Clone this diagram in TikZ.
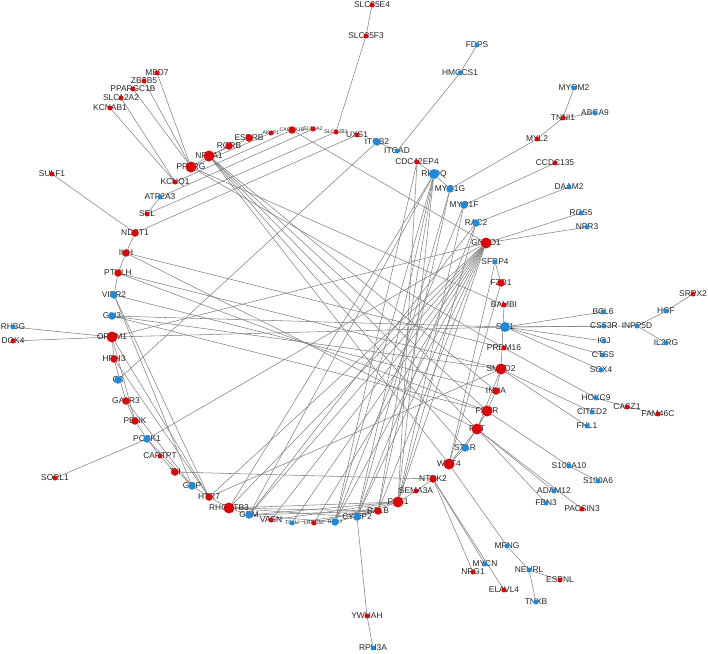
\documentclass[tikz,border=0pt]{standalone}
\usepackage{fontspec}
\setmainfont{Liberation Sans}
\usetikzlibrary{shapes,arrows,positioning}
\definecolor{nodered}{RGB}{218,8,8}
\definecolor{nodeblue}{RGB}{28,138,222}
\definecolor{linkgray}{RGB}{130,130,130}
\tikzstyle{rbig}=[circle,fill=nodered,inner sep=0pt,minimum size=11pt]
\tikzstyle{rmid}=[circle,fill=nodered,inner sep=0pt,minimum size=7.5pt]
\tikzstyle{rsml}=[circle,fill=nodered,inner sep=0pt,minimum size=5pt]
\tikzstyle{bbig}=[circle,fill=nodeblue,inner sep=0pt,minimum size=10pt]
\tikzstyle{bmid}=[circle,fill=nodeblue,inner sep=0pt,minimum size=7.5pt]
\tikzstyle{bsml}=[circle,fill=nodeblue,inner sep=0pt,minimum size=5pt]
\tikzstyle{lbl}=[inner sep=0pt,text=black!85,font=\fontsize{8.4}{9}\selectfont]
\tikzstyle{lsm}=[inner sep=0pt,text=black!85,font=\fontsize{5.2}{6}\selectfont]
\tikzstyle{link}=[draw=linkgray,line width=0.55pt]
\pgfdeclarelayer{back}
\pgfdeclarelayer{front}
\pgfsetlayers{back,main,front}

\begin{document}
\begin{tikzpicture}[x=1pt,y=-1pt]
\useasboundingbox (0,0) rectangle (708,653);
% genes
\begin{pgfonlayer}{front}
\node (SLC35E4) [rsml] at (372,5) {};
\node (SLC35F3) [rsml] at (366,36) {};
\node (FDPS) [bsml] at (477,45) {};
\node (HMGCS1) [bsml] at (460,73) {};
\node (MYOM2) [bsml] at (574,88) {};
\node (ABCA9) [bsml] at (595,113) {};
\node (TNNI1) [rsml] at (563,118) {};
\node (MYL2) [rsml] at (537,139) {};
\node (CCDC135) [rsml] at (555,163) {};
\node (DAAM2) [bsml] at (569,187) {};
\node (ITGAD) [bsml] at (397,151) {};
\node (ITGB2) [bmid] at (377,142) {};
\node (UXS1) [rsml] at (357,135) {};
\node (SLCO2B1) [rsml] at (336,132) {};
\node (SLC6A2) [rsml] at (313,129) {};
\node (CACNA1B) [rmid] at (292,130) {};
\node (AKAP1) [rsml] at (271,133) {};
\node (ESRRB) [rmid] at (249,138) {};
\node (RORB) [rmid] at (229,146) {};
\node (NR5A1) [rbig] at (209,156) {};
\node (PPARG) [rbig] at (191,167) {};
\node (KCNQ1) [rsml] at (175,182) {};
\node (MBD7) [rsml] at (157,73) {};
\node (ZBTB5) [rsml] at (144,81) {};
\node (PPARGC1B) [rsml] at (133,89) {};
\node (SLC12A2) [rsml] at (121,98) {};
\node (KCNAB1) [rsml] at (110,108) {};
\node (SULF1) [rsml] at (52,174) {};
\node (ATP2A3) [bsml] at (160,197) {};
\node (SEL) [rsml] at (147,214) {};
\node (NDST1) [rmid] at (135,233) {};
\node (IHH) [rmid] at (126,253) {};
\node (PTHLH) [rmid] at (118,273) {};
\node (VIPR2) [bmid] at (114,295) {};
\node (GLI3) [bmid] at (112,316) {};
\node (OPRM1) [rbig] at (112,337) {};
\node (RHBG) [bsml] at (13,327) {};
\node (DOK4) [rsml] at (13,341) {};
\node (HRH3) [rmid] at (114,359) {};
\node (C3) [bmid] at (118,380) {};
\node (GALR3) [rmid] at (126,401) {};
\node (PENK) [rmid] at (135,421) {};
\node (PCSK1) [bmid] at (147,439) {};
\node (SORL1) [rsml] at (55,478) {};
\node (CARTPT) [rsml] at (160,456) {};
\node (TH) [rmid] at (175,472) {};
\node (GRP) [bmid] at (192,486) {};
\node (HTR7) [rmid] at (209,497) {};
\node (RHOBTB3) [rbig] at (229,508) {};
\node (GEM) [bmid] at (249,515) {};
\node (VASN) [rsml] at (271,520) {};
\node (TSKU) [bsml] at (292,523) {};
\node (LRRC32) [rsml] at (314,523) {};
\node (RHOJ) [bmid] at (335,522) {};
\node (CYFIP2) [bmid] at (357,517) {};
\node (RALB) [rmid] at (378,511) {};
\node (PAK1) [rbig] at (398,502) {};
\node (SEMA3A) [rsml] at (416,491) {};
\node (NTRK2) [rmid] at (433,479) {};
\node (WNT4) [rbig] at (449,464) {};
\node (STAR) [bmid] at (465,448) {};
\node (FST) [rbig] at (477,429) {};
\node (FSHR) [rbig] at (487,411) {};
\node (INHA) [rmid] at (496,391) {};
\node (SMAD2) [rbig] at (501,369) {};
\node (PRDM16) [rsml] at (504,348) {};
\node (SPI1) [bbig] at (505,327) {};
\node (BAMBI) [rsml] at (504,305) {};
\node (FZD1) [rmid] at (501,283) {};
\node (SFRP4) [bsml] at (495,262) {};
\node (GNAO1) [rbig] at (486,243) {};
\node (RAC2) [bmid] at (476,223) {};
\node (MYO1F) [bmid] at (464,205) {};
\node (MYO1G) [bmid] at (450,189) {};
\node (RHOQ) [bbig] at (434,174) {};
\node (CDC42EP4) [rsml] at (417,162) {};
\node (RGS5) [bsml] at (581,213) {};
\node (NPR3) [bsml] at (587,227) {};
\node (BCL6) [bsml] at (603,312) {};
\node (CSF3R) [bsml] at (604,326) {};
\node (INPP5D) [bsml] at (637,326) {};
\node (HGF) [bsml] at (666,311) {};
\node (SRPX2) [rsml] at (693,294) {};
\node (IL2RG) [bsml] at (666,343) {};
\node (IGJ) [bsml] at (604,341) {};
\node (CTSS) [bsml] at (603,355) {};
\node (SOX4) [bsml] at (601,370) {};
\node (HOXC9) [bsml] at (596,398) {};
\node (CASZ1) [rsml] at (627,407) {};
\node (FAM46C) [rsml] at (658,414) {};
\node (CITED2) [bsml] at (592,412) {};
\node (FHL1) [bsml] at (587,426) {};
\node (S100A10) [bsml] at (569,466) {};
\node (S100A6) [bsml] at (598,481) {};
\node (ADAM12) [bsml] at (554,491) {};
\node (FBN3) [bsml] at (546,503) {};
\node (PACSIN3) [rsml] at (582,509) {};
\node (MFNG) [bsml] at (507,546) {};
\node (MYCN) [bsml] at (485,564) {};
\node (NRG1) [rsml] at (473,572) {};
\node (NEURL) [bsml] at (529,570) {};
\node (ESPNL) [rsml] at (560,580) {};
\node (ELAVL4) [rsml] at (504,590) {};
\node (TNXB) [bsml] at (536,602) {};
\node (YWHAH) [rsml] at (367,616) {};
\node (RPH3A) [bsml] at (373,648) {};
\end{pgfonlayer}

% gene names
\node [lbl] at (SLC35E4) {SLC35E4};
\node [lbl] at (SLC35F3) {SLC35F3};
\node [lbl] at (FDPS) {FDPS};
\node [lbl] at (HMGCS1) {HMGCS1};
\node [lbl] at (MYOM2) {MYOM2};
\node [lbl] at (ABCA9) {ABCA9};
\node [lbl] at (TNNI1) {TNNI1};
\node [lbl] at (MYL2) {MYL2};
\node [lbl] at (CCDC135) {CCDC135};
\node [lbl] at (DAAM2) {DAAM2};
\node [lbl] at (ITGAD) {ITGAD};
\node [lbl] at (ITGB2) {ITGB2};
\node [lbl] at (UXS1) {UXS1};
\node [lsm] at (SLCO2B1) {SLCO2B1};
\node [lsm] at (SLC6A2) {SLC6A2};
\node [lsm] at (CACNA1B) {CACNA1B};
\node [lsm] at (AKAP1) {AKAP1};
\node [lbl] at (ESRRB) {ESRRB};
\node [lbl] at (RORB) {RORB};
\node [lbl] at (NR5A1) {NR5A1};
\node [lbl] at (PPARG) {PPARG};
\node [lbl] at (KCNQ1) {KCNQ1};
\node [lbl] at (MBD7) {MBD7};
\node [lbl] at (ZBTB5) {ZBTB5};
\node [lbl] at (PPARGC1B) {PPARGC1B};
\node [lbl] at (SLC12A2) {SLC12A2};
\node [lbl] at (KCNAB1) {KCNAB1};
\node [lbl] at (SULF1) {SULF1};
\node [lbl] at (ATP2A3) {ATP2A3};
\node [lbl] at (SEL) {SEL};
\node [lbl] at (NDST1) {NDST1};
\node [lbl] at (IHH) {IHH};
\node [lbl] at (PTHLH) {PTHLH};
\node [lbl] at (VIPR2) {VIPR2};
\node [lbl] at (GLI3) {GLI3};
\node [lbl] at (OPRM1) {OPRM1};
\node [lbl] at (RHBG) {RHBG};
\node [lbl] at (DOK4) {DOK4};
\node [lbl] at (HRH3) {HRH3};
\node [lbl] at (C3) {C3};
\node [lbl] at (GALR3) {GALR3};
\node [lbl] at (PENK) {PENK};
\node [lbl] at (PCSK1) {PCSK1};
\node [lbl] at (SORL1) {SORL1};
\node [lbl] at (CARTPT) {CARTPT};
\node [lbl] at (TH) {TH};
\node [lbl] at (GRP) {GRP};
\node [lbl] at (HTR7) {HTR7};
\node [lbl] at (RHOBTB3) {RHOBTB3};
\node [lbl] at (GEM) {GEM};
\node [lbl] at (VASN) {VASN};
\node [lsm] at (TSKU) {TSKU};
\node [lsm] at (LRRC32) {LRRC32};
\node [lsm] at (RHOJ) {RHOJ};
\node [lbl] at (CYFIP2) {CYFIP2};
\node [lbl] at (RALB) {RALB};
\node [lbl] at (PAK1) {PAK1};
\node [lbl] at (SEMA3A) {SEMA3A};
\node [lbl] at (NTRK2) {NTRK2};
\node [lbl] at (WNT4) {WNT4};
\node [lbl] at (STAR) {STAR};
\node [lbl] at (FST) {FST};
\node [lbl] at (FSHR) {FSHR};
\node [lbl] at (INHA) {INHA};
\node [lbl] at (SMAD2) {SMAD2};
\node [lbl] at (PRDM16) {PRDM16};
\node [lbl] at (SPI1) {SPI1};
\node [lbl] at (BAMBI) {BAMBI};
\node [lbl] at (FZD1) {FZD1};
\node [lbl] at (SFRP4) {SFRP4};
\node [lbl] at (GNAO1) {GNAO1};
\node [lbl] at (RAC2) {RAC2};
\node [lbl] at (MYO1F) {MYO1F};
\node [lbl] at (MYO1G) {MYO1G};
\node [lbl] at (RHOQ) {RHOQ};
\node [lbl] at (CDC42EP4) {CDC42EP4};
\node [lbl] at (RGS5) {RGS5};
\node [lbl] at (NPR3) {NPR3};
\node [lbl] at (BCL6) {BCL6};
\node [lbl] at (CSF3R) {CSF3R};
\node [lbl] at (INPP5D) {INPP5D};
\node [lbl] at (HGF) {HGF};
\node [lbl] at (SRPX2) {SRPX2};
\node [lbl] at (IL2RG) {IL2RG};
\node [lbl] at (IGJ) {IGJ};
\node [lbl] at (CTSS) {CTSS};
\node [lbl] at (SOX4) {SOX4};
\node [lbl] at (HOXC9) {HOXC9};
\node [lbl] at (CASZ1) {CASZ1};
\node [lbl] at (FAM46C) {FAM46C};
\node [lbl] at (CITED2) {CITED2};
\node [lbl] at (FHL1) {FHL1};
\node [lbl] at (S100A10) {S100A10};
\node [lbl] at (S100A6) {S100A6};
\node [lbl] at (ADAM12) {ADAM12};
\node [lbl] at (FBN3) {FBN3};
\node [lbl] at (PACSIN3) {PACSIN3};
\node [lbl] at (MFNG) {MFNG};
\node [lbl] at (MYCN) {MYCN};
\node [lbl] at (NRG1) {NRG1};
\node [lbl] at (NEURL) {NEURL};
\node [lbl] at (ESPNL) {ESPNL};
\node [lbl] at (ELAVL4) {ELAVL4};
\node [lbl] at (TNXB) {TNXB};
\node [lbl] at (YWHAH) {YWHAH};
\node [lbl] at (RPH3A) {RPH3A};

% links
\begin{pgfonlayer}{back}
% outer branches
\draw [link] (SLC35E4) -- (SLC35F3);
\draw [link] (SLC35F3) -- (SLCO2B1);
\draw [link] (FDPS) -- (HMGCS1);
\draw [link] (HMGCS1) -- (ITGAD);
\draw [link] (MYOM2) -- (TNNI1);
\draw [link] (ABCA9) -- (TNNI1);
\draw [link] (TNNI1) -- (MYL2);
\draw [link] (MYL2) -- (MYO1G);
\draw [link] (CCDC135) -- (MYO1F);
\draw [link] (DAAM2) -- (RAC2);
\draw [link] (RGS5) -- (GNAO1);
\draw [link] (NPR3) -- (GNAO1);
\draw [link] (SPI1) -- (BCL6);
\draw [link] (SPI1) -- (CSF3R);
\draw [link] (SPI1) -- (INPP5D);
\draw [link] (SPI1) -- (IGJ);
\draw [link] (SPI1) -- (CTSS);
\draw [link] (SPI1) -- (SOX4);
\draw [link] (INPP5D) -- (HGF);
\draw [link] (INPP5D) -- (IL2RG);
\draw [link] (HGF) -- (SRPX2);
\draw [link] (PRDM16) -- (HOXC9);
\draw [link] (HOXC9) -- (CASZ1);
\draw [link] (CASZ1) -- (FAM46C);
\draw [link] (SMAD2) -- (CITED2);
\draw [link] (SMAD2) -- (FHL1);
\draw [link] (FSHR) -- (S100A10);
\draw [link] (S100A10) -- (S100A6);
\draw [link] (FST) -- (ADAM12);
\draw [link] (FST) -- (FBN3);
\draw [link] (FST) -- (PACSIN3);
\draw [link] (WNT4) -- (MFNG);
\draw [link] (MFNG) -- (NEURL);
\draw [link] (NEURL) -- (ESPNL);
\draw [link] (NEURL) -- (TNXB);
\draw [link] (NTRK2) -- (MYCN);
\draw [link] (NTRK2) -- (NRG1);
\draw [link] (NTRK2) -- (ELAVL4);
\draw [link] (CYFIP2) -- (YWHAH);
\draw [link] (YWHAH) -- (RPH3A);
\draw [link] (PCSK1) -- (SORL1);
\draw [link] (OPRM1) -- (RHBG);
\draw [link] (OPRM1) -- (DOK4);
\draw [link] (SULF1) -- (NDST1);
\draw [link] (MBD7) -- (PPARG);
\draw [link] (ZBTB5) -- (PPARG);
\draw [link] (PPARGC1B) -- (PPARG);
\draw [link] (SLC12A2) -- (KCNQ1);
\draw [link] (KCNAB1) -- (KCNQ1);
% upper arc
\draw [link] (ITGB2) -- (ITGAD);
\draw [link] (ITGB2) -- (C3);
\draw [link] (PPARG) -- (NR5A1);
\draw [link] (NR5A1) -- (RORB);
\draw [link] (NR5A1) -- (ESRRB);
\draw [link] (PPARG) -- (AKAP1);
\draw [link] (KCNQ1) -- (CACNA1B);
\draw [link] (ATP2A3) -- (SLC6A2);
\draw [link] (SEL) -- (SLCO2B1);
\draw [link] (ATP2A3) -- (SEL);
\draw [link] (NDST1) -- (UXS1);
\draw [link] (CACNA1B) -- (GNAO1);
\draw [link] (PPARG) -- (PRDM16);
\draw [link] (PPARG) -- (BAMBI);
\draw [link] (NR5A1) -- (STAR);
\draw [link] (NR5A1) -- (WNT4);
\draw [link] (NR5A1) -- (FSHR);
\draw [link] (NR5A1) -- (INHA);
\draw [link] (NR5A1) -- (FST);
% left arc
\draw [link] (NDST1) -- (IHH);
\draw [link] (IHH) -- (PTHLH);
\draw [link] (IHH) -- (PRDM16);
\draw [link] (IHH) -- (FST);
\draw [link] (PTHLH) -- (SMAD2);
\draw [link] (PTHLH) -- (FSHR);
\draw [link] (PTHLH) -- (VIPR2);
\draw [link] (VIPR2) -- (INHA);
\draw [link] (VIPR2) -- (HTR7);
\draw [link] (VIPR2) -- (GRP);
\draw [link] (GLI3) -- (SPI1);
\draw [link] (GLI3) -- (SMAD2);
\draw [link] (GLI3) -- (FSHR);
\draw [link] (OPRM1) -- (SPI1);
\draw [link] (OPRM1) -- (GNAO1);
\draw [link] (OPRM1) -- (PENK);
\draw [link] (OPRM1) -- (HRH3);
\draw [link] (OPRM1) -- (HTR7);
\draw [link] (HRH3) -- (GALR3);
\draw [link] (HRH3) -- (HTR7);
\draw [link] (GALR3) -- (PENK);
\draw [link] (GALR3) -- (GRP);
\draw [link] (PENK) -- (PCSK1);
\draw [link] (PCSK1) -- (CARTPT);
\draw [link] (CARTPT) -- (TH);
\draw [link] (PCSK1) -- (GRP);
\draw [link] (TH) -- (NTRK2);
\draw [link] (GRP) -- (HTR7);
\draw [link] (HTR7) -- (RHOBTB3);
\draw [link] (HTR7) -- (SMAD2);
% GNAO1 and small GTPases
\draw [link] (GNAO1) -- (HTR7);
\draw [link] (GNAO1) -- (RHOBTB3);
\draw [link] (GNAO1) -- (GEM);
\draw [link] (GNAO1) -- (VASN);
\draw [link] (GNAO1) -- (TSKU);
\draw [link] (GNAO1) -- (LRRC32);
\draw [link] (GNAO1) -- (RHOJ);
\draw [link] (GNAO1) -- (CYFIP2);
\draw [link] (GNAO1) -- (RALB);
\draw [link] (GNAO1) -- (PAK1);
\draw [link] (GNAO1) -- (PCSK1);
\draw [link] (RHOQ) -- (PAK1);
\draw [link] (RHOQ) -- (RALB);
\draw [link] (RHOQ) -- (RHOJ);
\draw [link] (RHOQ) -- (CYFIP2);
\draw [link] (RHOQ) -- (GEM);
\draw [link] (RHOQ) -- (RHOBTB3);
\draw [link] (CDC42EP4) -- (PAK1);
\draw [link] (CDC42EP4) -- (RHOJ);
\draw [link] (CDC42EP4) -- (RHOQ);
\draw [link] (MYO1G) -- (CYFIP2);
\draw [link] (MYO1G) -- (RALB);
\draw [link] (MYO1G) -- (RHOQ);
\draw [link] (MYO1F) -- (PAK1);
\draw [link] (MYO1F) -- (RHOJ);
\draw [link] (RAC2) -- (PAK1);
\draw [link] (RAC2) -- (CYFIP2);
\draw [link] (RAC2) -- (GEM);
% lower arc
\draw [link] (RHOBTB3) -- (PAK1);
\draw [link] (RHOBTB3) -- (RALB);
\draw [link] (RHOBTB3) -- (GEM);
\draw [link] (RHOBTB3) -- (CYFIP2);
\draw [link] (GEM) -- (PAK1);
\draw [link] (GEM) -- (RALB);
\draw [link] (GEM) -- (RHOJ);
\draw [link] (VASN) -- (PAK1);
\draw [link] (TSKU) -- (RALB);
\draw [link] (LRRC32) -- (PAK1);
\draw [link] (RHOJ) -- (RALB);
\draw [link] (CYFIP2) -- (PAK1);
% right arc
\draw [link] (SFRP4) -- (FZD1);
\draw [link] (SFRP4) -- (WNT4);
\draw [link] (FZD1) -- (WNT4);
\draw [link] (BAMBI) -- (SMAD2);
\draw [link] (SMAD2) -- (INHA);
\draw [link] (INHA) -- (FSHR);
\draw [link] (FSHR) -- (FST);
\draw [link] (FST) -- (SMAD2);
\draw [link] (STAR) -- (FSHR);
\draw [link] (WNT4) -- (STAR);
\draw [link] (WNT4) -- (FST);
\draw [link] (NTRK2) -- (SEMA3A);
\draw [link] (SEMA3A) -- (PAK1);
\end{pgfonlayer}
\end{tikzpicture}
\end{document}
